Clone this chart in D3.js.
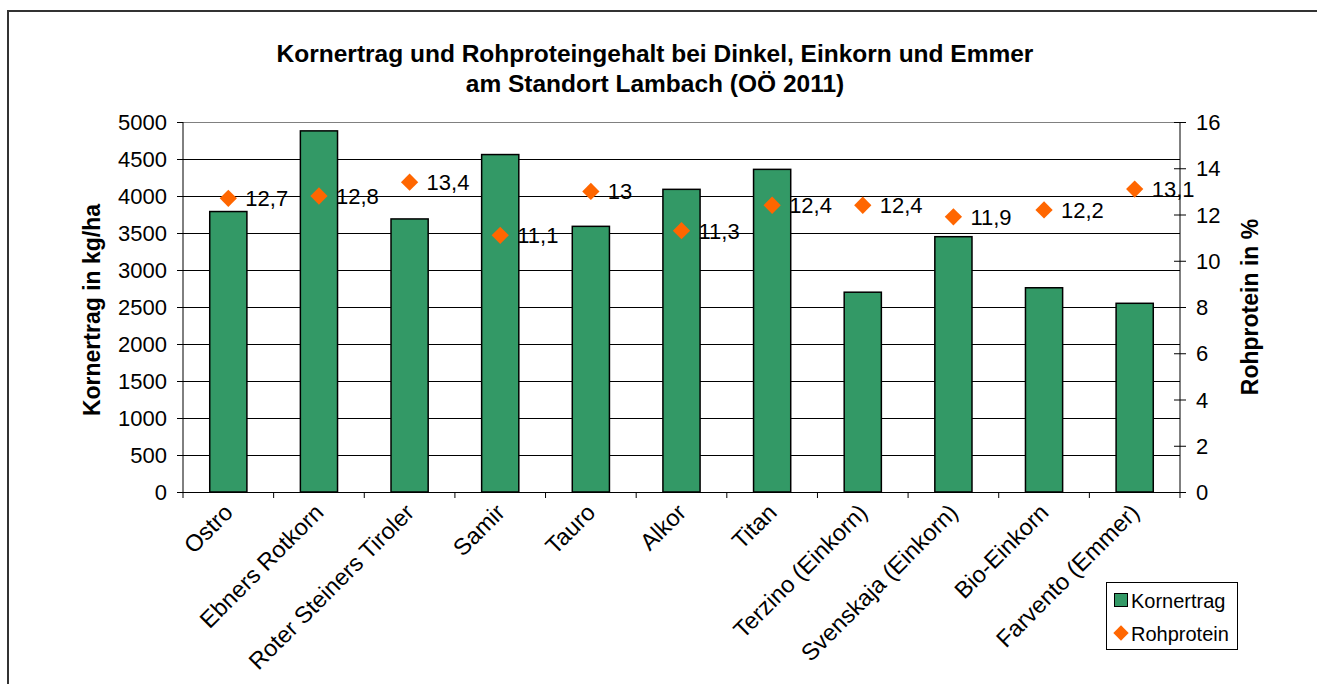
<!DOCTYPE html>
<html><head><meta charset="utf-8">
<script src="https://cdn.jsdelivr.net/npm/d3@7"></script>
<style>body{margin:0;background:#fff;}svg{display:block;font-family:"Liberation Sans",Arial,sans-serif;}</style>
</head><body><svg id="c" width="1317" height="684"></svg>
<script>
const categories = ["Ostro","Ebners Rotkorn","Roter Steiners Tiroler","Samir","Tauro","Alkor","Titan","Terzino (Einkorn)","Svenskaja (Einkorn)","Bio-Einkorn","Farvento (Emmer)"];
const kornertrag = [3790,4880,3690,4560,3590,4090,4360,2700,3450,2760,2550];
const rohprotein = [12.7,12.8,13.4,11.1,13,11.3,12.4,12.4,11.9,12.2,13.1];
const proteinLabels = ["12,7","12,8","13,4","11,1","13","11,3","12,4","12,4","11,9","12,2","13,1"];
const leftTicks = [0,500,1000,1500,2000,2500,3000,3500,4000,4500,5000];
const rightTicks = [0,2,4,6,8,10,12,14,16];
const titleLines = ["Kornertrag und Rohproteingehalt bei Dinkel, Einkorn und Emmer","am Standort Lambach (OÖ 2011)"];

const svg = d3.select("#c");
const L = 183, R = 1180, T = 122, B = 492;
const green = "#339966", orange = "#FF6600";

// outer border
svg.append("path").attr("d", `M8,684 L8,11 L1317,11`).attr("fill","none").attr("stroke","#333").attr("stroke-width",2);

const x = d3.scaleBand().domain(categories).range([L,R]).paddingInner(0.59).paddingOuter(0.295);
const xc = d3.scaleBand().domain(categories).range([L,R]);
const y = d3.scaleLinear().domain([0,5000]).range([B,T]);
const y2 = d3.scaleLinear().domain([0,16]).range([B,T]);

// gridlines
svg.append("g").selectAll("line").data(leftTicks.filter(d=>d>0)).join("line")
  .attr("x1",L).attr("x2",R).attr("y1",d=>Math.round(y(d))+0.5).attr("y2",d=>Math.round(y(d))+0.5)
  .attr("stroke",d=>d===5000?"#808080":"#000").attr("stroke-width",1);

// bars
svg.append("g").selectAll("rect").data(kornertrag).join("rect")
  .attr("x",(d,i)=>x(categories[i])).attr("width",x.bandwidth())
  .attr("y",d=>y(d)).attr("height",d=>B-y(d))
  .attr("fill",green).attr("stroke","#000").attr("stroke-width",1.5);

// left axis
const ga = svg.append("g").attr("transform",`translate(${L},0)`)
  .call(d3.axisLeft(y).tickValues(leftTicks).tickSize(6).tickFormat(d3.format("d")));
ga.selectAll("text").attr("font-size",22).attr("fill","#000").attr("x",-16).attr("dy","0.35em");
ga.selectAll("line,path").attr("stroke","#000");
ga.select(".domain").attr("d",`M0,${T}V${B}`);

// right axis
const gr = svg.append("g").attr("transform",`translate(${R},0)`)
  .call(d3.axisRight(y2).tickValues(rightTicks).tickSize(6).tickFormat(d3.format("d")));
gr.selectAll("text").attr("font-size",22).attr("fill","#000").attr("x",16).attr("dy","0.35em");
gr.selectAll("line").attr("stroke","#000").attr("x1",-6);
gr.select(".domain").attr("stroke","#000").attr("d",`M0,${T}V${B}`);

// x axis
svg.append("line").attr("x1",L).attr("x2",R).attr("y1",B+0.5).attr("y2",B+0.5).attr("stroke","#000");
const xticks = categories.map(c=>xc(c)).concat([R]);
svg.append("g").selectAll("line").data(xticks).join("line")
  .attr("x1",d=>d).attr("x2",d=>d).attr("y1",B).attr("y2",B+6).attr("stroke","#000");
svg.append("g").selectAll("text").data(categories).join("text")
  .attr("transform",d=>`translate(${xc(d)+xc.bandwidth()/2+6},${B+22}) rotate(-45)`)
  .attr("text-anchor","end").attr("font-size",23.5).attr("fill","#000").text(d=>d);

// markers
const diamond = d3.symbol().type(d3.symbolDiamond2).size(190);
svg.append("g").selectAll("path").data(rohprotein).join("path")
  .attr("transform",(d,i)=>`translate(${xc(categories[i])+xc.bandwidth()/2},${y2(d)})`)
  .attr("d",diamond).attr("fill",orange);
svg.append("g").selectAll("text").data(rohprotein).join("text")
  .attr("x",(d,i)=>xc(categories[i])+xc.bandwidth()/2+17).attr("y",d=>y2(d)+8)
  .attr("font-size",22).attr("fill","#000").text((d,i)=>proteinLabels[i]);

// title
svg.append("g").selectAll("text").data(titleLines).join("text")
  .attr("x",655).attr("y",(d,i)=>62+i*30).attr("text-anchor","middle")
  .attr("font-size",24.5).attr("font-weight","bold").attr("fill","#000").text(d=>d);

// axis titles
svg.append("text").attr("transform","translate(100,310) rotate(-90)").attr("text-anchor","middle")
  .attr("font-size",23).attr("font-weight","bold").text("Kornertrag in kg/ha");
svg.append("text").attr("transform","translate(1258,307) rotate(-90)").attr("text-anchor","middle")
  .attr("font-size",23).attr("font-weight","bold").text("Rohprotein in %");

// legend
const lg = svg.append("g");
lg.append("rect").attr("x",1106.5).attr("y",582.5).attr("width",131).attr("height",67).attr("fill","#fff").attr("stroke","#000");
lg.append("rect").attr("x",1114.5).attr("y",593.5).attr("width",13).attr("height",13).attr("fill",green).attr("stroke","#000");
lg.append("text").attr("x",1131).attr("y",608).attr("font-size",20).text("Kornertrag");
lg.append("path").attr("transform","translate(1121,633)").attr("d",d3.symbol().type(d3.symbolDiamond2).size(150)).attr("fill",orange);
lg.append("text").attr("x",1131).attr("y",641).attr("font-size",20).text("Rohprotein");
</script></body></html>
